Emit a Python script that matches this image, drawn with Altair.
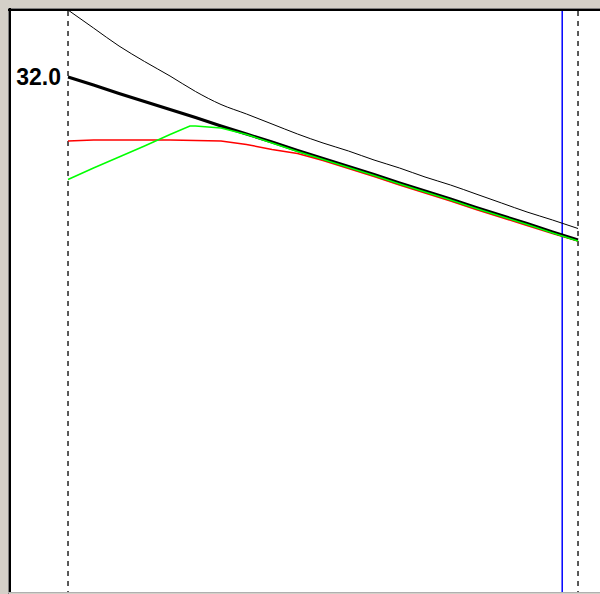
import altair as alt
import pandas as pd

# Shared time steps (0 = left marker, 100 = right marker)
steps = [0, 5, 10, 15, 20, 25, 30, 35, 40, 45, 50, 55, 60, 65, 70, 75, 80, 85, 90, 95, 100]

trend = [32.00, 31.84, 31.67, 31.51, 31.35, 31.19, 31.02, 30.86, 30.70, 30.53, 30.37,
         30.21, 30.05, 29.88, 29.72, 29.56, 29.39, 29.23, 29.07, 28.90, 28.74]
upper = [33.34, 32.98, 32.62, 32.31, 32.02, 31.71, 31.45, 31.26, 31.06, 30.86, 30.68,
         30.52, 30.34, 30.18, 30.00, 29.84, 29.66, 29.48, 29.30, 29.14, 28.97]
red_vals = [30.72, 30.74, 30.74, 30.74, 30.74, 30.73, 30.72, 30.65, 30.55, 30.47, 30.33,
            30.17, 30.01, 29.84, 29.68, 29.52, 29.35, 29.19, 29.03, 28.87, 28.72]
green_steps = [0, 5, 10, 15, 20, 23.9, 25, 30, 35, 40, 45, 50, 55, 60, 65, 70, 75, 80, 85, 90, 95, 100]
green_vals = [29.95, 30.18, 30.40, 30.62, 30.85, 31.02, 31.02, 30.98, 30.85, 30.68, 30.51,
              30.35, 30.19, 30.03, 29.86, 29.70, 29.54, 29.37, 29.21, 29.05, 28.88, 28.72]

markers = [0, 100]
cursor = [96.9]
label_value = 32.0

X_DOMAIN = [-11.18, 104.31]
Y_DOMAIN = [21.7, 33.32]

xs = alt.Scale(domain=X_DOMAIN, nice=False, zero=False)
ys = alt.Scale(domain=Y_DOMAIN, nice=False, zero=False)

def series(xv, yv):
    return pd.DataFrame({"t": xv, "v": yv})

def line(df, color, width, interp="linear"):
    return alt.Chart(df).mark_line(
        color=color, strokeWidth=width, clip=True, interpolate=interp
    ).encode(
        x=alt.X("t:Q", scale=xs, axis=None),
        y=alt.Y("v:Q", scale=ys, axis=None),
    )

red = line(series(steps, red_vals), "#FF0000", 1.5)
green = line(series(green_steps, green_vals), "#00FF00", 1.5)
thick = line(series(steps, trend), "#000000", 3)
thin = line(series(steps, upper), "#000000", 1, "monotone")

dashed = alt.Chart(pd.DataFrame({"t": markers})).mark_rule(
    color="#222222", strokeWidth=1.5, strokeDash=[5, 5]
).encode(x=alt.X("t:Q", scale=xs, axis=None))

blue = alt.Chart(pd.DataFrame({"t": cursor})).mark_rule(
    color="#0000FF", strokeWidth=1.5
).encode(x=alt.X("t:Q", scale=xs, axis=None))

label = alt.Chart(pd.DataFrame({"t": [0], "v": [label_value]})).mark_text(
    align="right", baseline="middle", dx=-7, dy=1, font="Liberation Sans",
    fontWeight="bold", fontSize=23, color="#000000"
).encode(
    x=alt.X("t:Q", scale=xs, axis=None),
    y=alt.Y("v:Q", scale=ys, axis=None),
    text=alt.Text("v:Q", format=".1f"),
)

# Sunken window frame around the plot area
frame_dark_left = alt.Chart(pd.DataFrame({"a": [0]})).mark_rule(color="#000000", strokeWidth=2).encode(
    x=alt.value(-1), y=alt.value(-3), y2=alt.value(582))
frame_dark_top = alt.Chart(pd.DataFrame({"a": [0]})).mark_rule(color="#000000", strokeWidth=2).encode(
    y=alt.value(-1), x=alt.value(-3), x2=alt.value(589))
frame_gray_left = alt.Chart(pd.DataFrame({"a": [0]})).mark_rule(color="#808080", strokeWidth=1).encode(
    x=alt.value(-2.5), y=alt.value(-3), y2=alt.value(583))
frame_gray_top = alt.Chart(pd.DataFrame({"a": [0]})).mark_rule(color="#808080", strokeWidth=1).encode(
    y=alt.value(-2.5), x=alt.value(-3), x2=alt.value(589))
frame_bottom = alt.Chart(pd.DataFrame({"a": [0]})).mark_rule(color="#B0B0B0", strokeWidth=1).encode(
    y=alt.value(581.5), x=alt.value(-3), x2=alt.value(589))

chart = alt.layer(
    dashed, blue, red, thick, green, thin, label,
    frame_gray_left, frame_gray_top, frame_dark_left, frame_dark_top, frame_bottom,
).properties(
    width=589, height=581,
    autosize=alt.AutoSizeParams(type="none"),
    padding={"left": 11, "top": 11, "right": 0, "bottom": 2},
    background="#D4D0C8",
).configure_view(
    fill="#FFFFFF", stroke=None
)

chart.save("out.html", embed_options={"renderer": "svg", "actions": False})
